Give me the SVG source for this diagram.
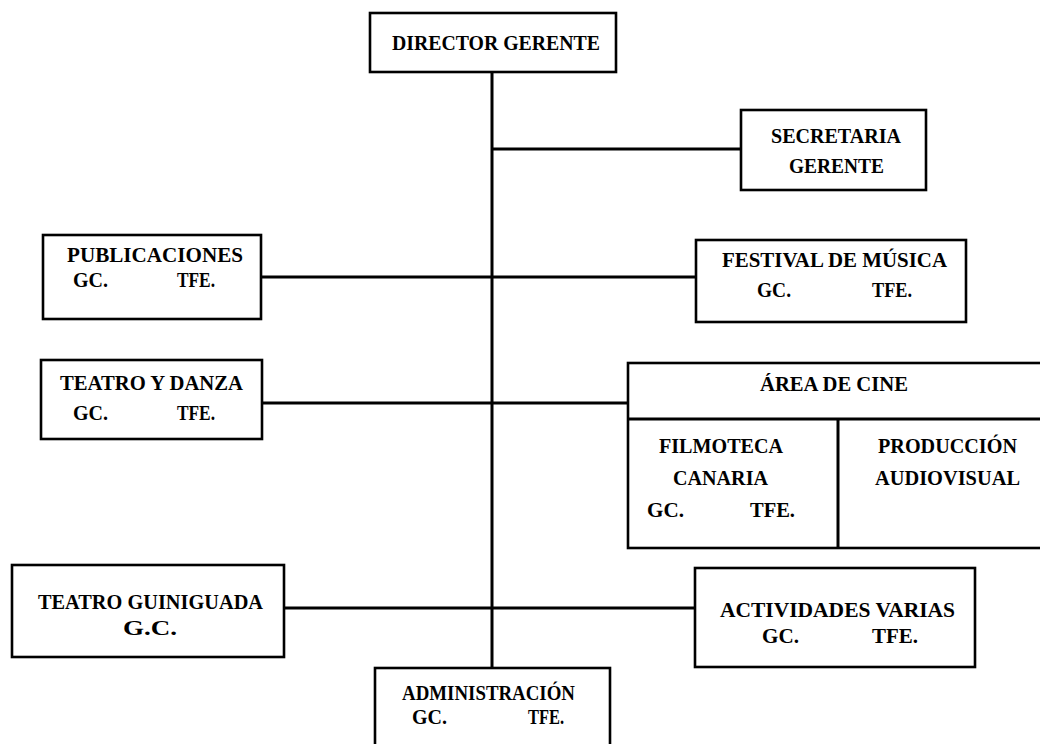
<svg xmlns="http://www.w3.org/2000/svg" width="1040" height="744" viewBox="0 0 1040 744">
<style>
.box{fill:#fff;stroke:#000;stroke-width:2.6}
.ln{stroke:#000;stroke-width:3;fill:none}
text{font-family:"Liberation Serif","Times New Roman",serif;font-weight:bold;font-size:22px;fill:#000}
</style>
<rect width="1040" height="744" fill="#fff"/>
<g id="connectors">
<line class="ln" x1="492" y1="72" x2="492" y2="668"/>
<line class="ln" x1="492" y1="149" x2="741" y2="149"/>
<line class="ln" x1="261" y1="277" x2="696" y2="277"/>
<line class="ln" x1="262" y1="403" x2="628" y2="403"/>
<line class="ln" x1="284" y1="608" x2="695" y2="608"/>
</g>
<g id="director">
<rect class="box" x="370" y="13" width="246" height="59"/>
<text x="392" y="50" textLength="208" lengthAdjust="spacingAndGlyphs">DIRECTOR GERENTE</text>
</g>
<g id="secretaria">
<rect class="box" x="741" y="110" width="185" height="80"/>
<text x="771" y="143" textLength="130" lengthAdjust="spacingAndGlyphs">SECRETARIA</text>
<text x="789" y="173" textLength="95" lengthAdjust="spacingAndGlyphs">GERENTE</text>
</g>
<g id="publicaciones">
<rect class="box" x="43" y="235" width="218" height="84"/>
<text x="67" y="262" textLength="176" lengthAdjust="spacingAndGlyphs">PUBLICACIONES</text>
<text x="73" y="287" textLength="35" lengthAdjust="spacingAndGlyphs">GC.</text>
<text x="177" y="287" textLength="38" lengthAdjust="spacingAndGlyphs">TFE.</text>
</g>
<g id="festival">
<rect class="box" x="696" y="240" width="270" height="82"/>
<text x="722" y="267" textLength="225" lengthAdjust="spacingAndGlyphs">FESTIVAL DE MÚSICA</text>
<text x="757" y="297" textLength="34" lengthAdjust="spacingAndGlyphs">GC.</text>
<text x="872" y="297" textLength="40" lengthAdjust="spacingAndGlyphs">TFE.</text>
</g>
<g id="teatro-danza">
<rect class="box" x="41" y="360" width="221" height="79"/>
<text x="60" y="390" textLength="183" lengthAdjust="spacingAndGlyphs">TEATRO Y DANZA</text>
<text x="73" y="420" textLength="35" lengthAdjust="spacingAndGlyphs">GC.</text>
<text x="177" y="420" textLength="38" lengthAdjust="spacingAndGlyphs">TFE.</text>
</g>
<g id="area-cine">
<rect class="box" x="628" y="363" width="430" height="185"/>
<line class="ln" x1="628" y1="419" x2="1042" y2="419"/>
<line class="ln" x1="838" y1="419" x2="838" y2="548"/>
<text x="760" y="391" textLength="148" lengthAdjust="spacingAndGlyphs">ÁREA DE CINE</text>
<text x="659" y="453" textLength="124" lengthAdjust="spacingAndGlyphs">FILMOTECA</text>
<text x="673" y="485" textLength="95" lengthAdjust="spacingAndGlyphs">CANARIA</text>
<text x="647" y="517" textLength="37" lengthAdjust="spacingAndGlyphs">GC.</text>
<text x="750" y="517" textLength="45" lengthAdjust="spacingAndGlyphs">TFE.</text>
<text x="878" y="453" textLength="139" lengthAdjust="spacingAndGlyphs">PRODUCCIÓN</text>
<text x="875" y="485" textLength="145" lengthAdjust="spacingAndGlyphs">AUDIOVISUAL</text>
</g>
<g id="teatro-guiniguada">
<rect class="box" x="12" y="565" width="272" height="92"/>
<text x="38" y="609" textLength="225" lengthAdjust="spacingAndGlyphs">TEATRO GUINIGUADA</text>
<text x="123" y="635" textLength="54" lengthAdjust="spacingAndGlyphs">G.C.</text>
</g>
<g id="actividades">
<rect class="box" x="695" y="568" width="280" height="99"/>
<text x="720" y="617" textLength="235" lengthAdjust="spacingAndGlyphs">ACTIVIDADES VARIAS</text>
<text x="762" y="643" textLength="37" lengthAdjust="spacingAndGlyphs">GC.</text>
<text x="872" y="643" textLength="46" lengthAdjust="spacingAndGlyphs">TFE.</text>
</g>
<g id="administracion">
<rect class="box" x="375" y="668" width="235" height="90"/>
<text x="402" y="700" textLength="173" lengthAdjust="spacingAndGlyphs">ADMINISTRACIÓN</text>
<text x="412" y="724" textLength="35" lengthAdjust="spacingAndGlyphs">GC.</text>
<text x="528" y="724" textLength="36" lengthAdjust="spacingAndGlyphs">TFE.</text>
</g>
</svg>
